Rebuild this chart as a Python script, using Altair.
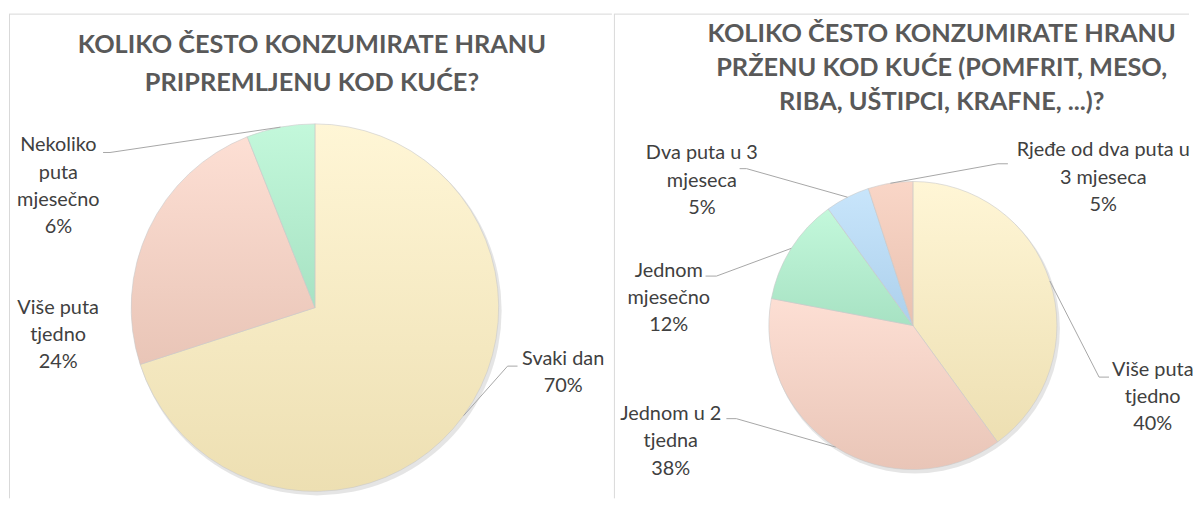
import math
import altair as alt
import pandas as pd

# ---------------- data ----------------
L_CATS = ["Svaki dan", "Više puta tjedno", "Nekoliko puta mjesečno"]
L_VALUES = [70, 24, 6]
L_WRAPPED = ["Svaki dan", "Više puta\ntjedno", "Nekoliko\nputa\nmjesečno"]
L_TITLE = ["KOLIKO ČESTO KONZUMIRATE HRANU", "PRIPREMLJENU KOD KUĆE?"]

R_CATS = ["Više puta tjedno", "Jednom u 2 tjedna", "Jednom mjesečno",
          "Dva puta u 3 mjeseca", "Rjeđe od dva puta u 3 mjeseca"]
R_VALUES = [40, 38, 12, 5, 5]
R_WRAPPED = ["Više puta\ntjedno", "Jednom u 2\ntjedna", "Jednom\nmjesečno",
             "Dva puta u 3\nmjeseca", "Rjeđe od dva puta u\n3 mjeseca"]
R_TITLE = ["KOLIKO ČESTO KONZUMIRATE HRANU", "PRŽENU KOD KUĆE (POMFRIT, MESO,",
           "RIBA, UŠTIPCI, KRAFNE, ...)?"]

# ---------------- styles / layout ----------------
YELLOW = ("#FFF6D6", "#EDDFB2")
PINK = ("#FDDFD4", "#E9C5B7")
GREEN = ("#C3F8DB", "#A7E2C3")
BLUE = ("#C8E5FB", "#ACD0EC")
SALMON = ("#F9D6C7", "#E9C1B0")

L_FILLS = [YELLOW, PINK, GREEN]
R_FILLS = [YELLOW, PINK, GREEN, BLUE, SALMON]

# label offset from polar anchor, leader elbow offset from label, leader tail
L_LAB_DX = [76, -64, -218]
L_LAB_DY = [-61, 119, 89]
L_LEAD = [True, False, True]
L_E_DX = [-56, 0, 52]
L_E_DY = [-6.5, 0, -34]
L_HX = [10, 0, -7]

R_LAB_DX = [75, -150, -98, -133, 219]
R_LAB_DY = [126, -31, 66, 10, 24]
R_LEAD = [True, True, True, True, True]
R_E_DX = [-54, 66, 48, 45, -106]
R_E_DY = [-20, -23, -22, -12, -14]
R_HX = [10, -10, -11, -7, 10]

FONT = "Lato"
TITLE_COLOR = "#595959"
LABEL_COLOR = "#404040"
LEADER_COLOR = "#a6a6a6"
FRAME_COLOR = "#d9d9d9"
LABEL_LH = 27.5


def grad(top, bottom):
    return alt.LinearGradient(
        gradient="linear",
        stops=[alt.GradientStop(color=top, offset=0),
               alt.GradientStop(color=bottom, offset=1)],
        x1=0, x2=0, y1=0, y2=1,
    )


def panel(cats, values, wrapped, fills, lab_dx, lab_dy, lead, e_dx, e_dy, hx,
          W, H, CX, CY, R, LR, title, tx, ty, tlh, frame_left):
    df = pd.DataFrame({
        "cat": cats, "value": values, "wrapped": wrapped,
        "order": list(range(len(cats))),
        "ldx": lab_dx, "ldy": lab_dy, "lead": lead,
        "edx": e_dx, "edy": e_dy, "hx": hx,
    })
    total = sum(values)
    base = alt.Chart(df).transform_window(
        cum="sum(value)", sort=[alt.SortField("order")], frame=[None, 0]
    ).transform_joinaggregate(
        total="sum(value)"
    ).transform_calculate(
        end="datum.cum",
        start="datum.cum - datum.value",
        ang="2*PI*(datum.cum - datum.value/2)/datum.total",
    ).transform_calculate(
        lx=f"{CX} + {LR}*sin(datum.ang) + datum.ldx",
        ly=f"{CY} - {LR}*cos(datum.ang) + datum.ldy",
        px=f"{CX} + {R}*sin(datum.ang)",
        py=f"{CY} - {R}*cos(datum.ang)",
        label="datum.wrapped + '\\n' + datum.value + '%'",
    ).transform_calculate(
        ex="datum.lx + datum.edx",
        ey="datum.ly + datum.edy",
        nlines="length(split(datum.label, '\\n'))",
    ).transform_calculate(
        fx="datum.ex + datum.hx",
        ty=f"datum.ly - (datum.nlines - 1)*{LABEL_LH}/2",
    )

    one = alt.Chart(pd.DataFrame({"t": [" ".join(title)]}))

    shadow = one.mark_arc(
        theta=0, theta2=2 * math.pi, outerRadius=R + 1,
        fill="#000000", opacity=0.10
    ).encode(x=alt.value(CX + 2), y=alt.value(CY + 3))

    theta_scale = alt.Scale(domain=[0, total], range=[0, 2 * math.pi])
    slices = []
    for cat, (top, bottom) in zip(cats, fills):
        slices.append(
            base.transform_filter(alt.datum.cat == cat).mark_arc(
                outerRadius=R, fill=grad(top, bottom),
                stroke="#c9c9c9", strokeWidth=0.6
            ).encode(
                theta=alt.Theta("start:Q", scale=theta_scale),
                theta2="end:Q",
                x=alt.value(CX), y=alt.value(CY),
            )
        )

    leads = base.transform_filter("datum.lead")
    lead1 = leads.mark_rule(color=LEADER_COLOR, strokeWidth=1).encode(
        x=alt.X("px:Q", scale=None), y=alt.Y("py:Q", scale=None),
        x2="ex:Q", y2="ey:Q",
    )
    lead2 = leads.mark_rule(color=LEADER_COLOR, strokeWidth=1).encode(
        x=alt.X("ex:Q", scale=None), y=alt.Y("ey:Q", scale=None),
        x2="fx:Q", y2="ey:Q",
    )

    labels = base.mark_text(
        font=FONT, fontSize=20, color=LABEL_COLOR, align="center",
        baseline="middle", lineBreak="\n", lineHeight=LABEL_LH
    ).encode(
        x=alt.X("lx:Q", scale=None), y=alt.Y("ty:Q", scale=None),
        text="label:N",
    )

    title_mark = alt.Chart(pd.DataFrame({"t": ["\n".join(title)]})).mark_text(
        font=FONT, fontSize=25.5, fontWeight="bold", color=TITLE_COLOR,
        align="center", baseline="middle", lineBreak="\n", lineHeight=tlh
    ).encode(x=alt.value(tx), y=alt.value(ty), text="t:N")

    top_rule = one.mark_rule(color=FRAME_COLOR, strokeWidth=1).encode(
        x=alt.value(0), x2=alt.value(W), y=alt.value(4.5))
    left_rule = one.mark_rule(color=FRAME_COLOR, strokeWidth=1).encode(
        x=alt.value(frame_left), y=alt.value(4.5), y2=alt.value(H))

    return alt.layer(
        top_rule, left_rule, shadow, *slices, lead1, lead2, labels, title_mark
    ).properties(width=W, height=H)


left = panel(L_CATS, L_VALUES, L_WRAPPED, L_FILLS, L_LAB_DX, L_LAB_DY, L_LEAD,
             L_E_DX, L_E_DY, L_HX, W=607, H=492, CX=308, CY=300, R=185, LR=215,
             title=L_TITLE, tx=305, ty=35.5, tlh=38, frame_left=0.5)
right = panel(R_CATS, R_VALUES, R_WRAPPED, R_FILLS, R_LAB_DX, R_LAB_DY, R_LEAD,
              R_E_DX, R_E_DY, R_HX, W=579, H=492, CX=301, CY=318, R=145, LR=175,
              title=R_TITLE, tx=330, ty=24.5, tlh=34.3, frame_left=0.5)

chart = alt.hconcat(left, right, spacing=0).properties(
    padding=0, background="white"
).configure_view(strokeWidth=0)

chart.save("out.html", embed_options={"renderer": "svg", "actions": False})
